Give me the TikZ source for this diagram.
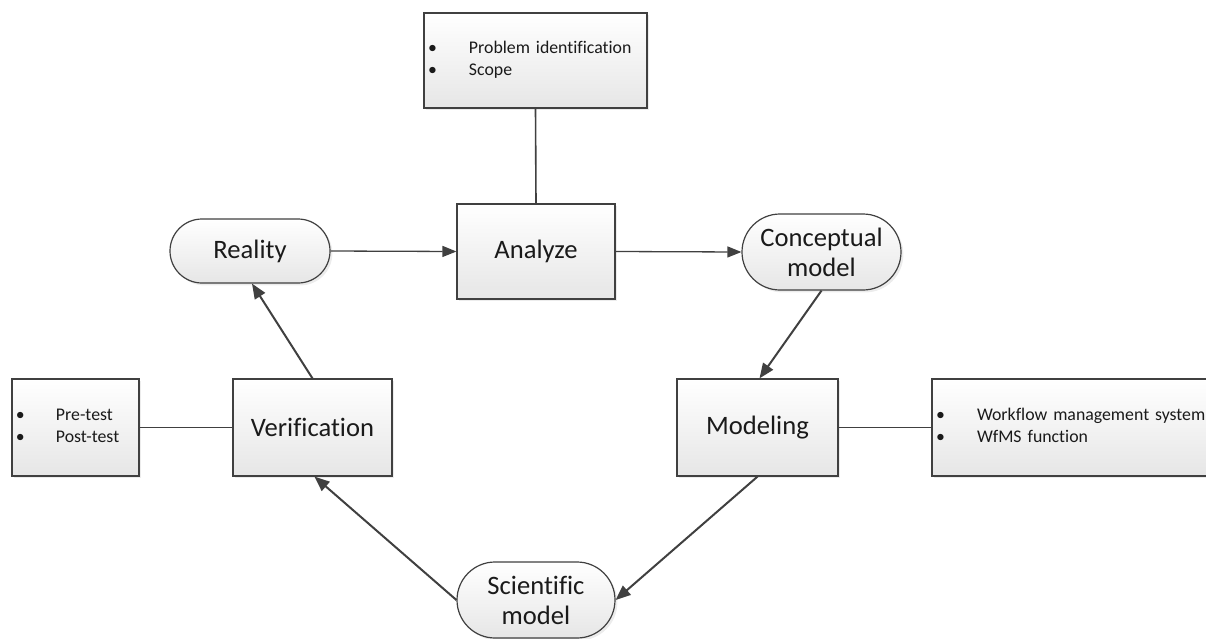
\documentclass[tikz,border=0pt]{standalone}
\usepackage{fontspec}
\setmainfont[Ligatures=NoCommon]{Carlito}
\usetikzlibrary{shadows,arrows.meta}
\definecolor{linegray}{HTML}{404040}
\definecolor{boxbottom}{HTML}{E6E6E6}
\definecolor{txt}{HTML}{1A1A1A}
\begin{document}
\begin{tikzpicture}[x=0.5pt,y=-0.5pt,
  shape base/.style={draw=linegray, line width=0.6pt, top color=white, bottom color=boxbottom,
    drop shadow={shadow xshift=1.2pt,shadow yshift=-1.2pt,opacity=0.15},
    inner sep=0pt, text=txt},
  mainbox/.style={shape base, rectangle, align=center, font=\fontsize{13.3}{15}\selectfont},
  roundbox/.style={shape base, rectangle, align=center, font=\fontsize{13.3}{15}\selectfont},
  listbox/.style={shape base, rectangle, align=left, inner xsep=2pt, font=\fontsize{8.9}{11}\selectfont},
  flow/.style={draw=linegray, line width=0.65pt, -{Triangle[length=7pt,width=5.5pt]}},
  diagflow/.style={draw=linegray, line width=1pt, -{Triangle[length=7.5pt,width=6pt]}},
  link/.style={draw=linegray, line width=0.6pt},
  toplink/.style={draw=linegray, line width=0.8pt}
]
\useasboundingbox (0,0) rectangle (1206,638);
\begin{scope}
\clip (0,0) rectangle (1206,638);
% top list box
\node[listbox, minimum width=111.5pt, minimum height=47.5pt, text width=107.5pt] (prob) at (535.5,60.5)
  {\begin{tabular}{@{}p{20.5pt}@{}l@{}}\textbullet&Problem identification\\ \textbullet&Scope\end{tabular}};
% main nodes
\node[mainbox, minimum width=79pt, minimum height=47.5pt] (ana) at (536,251.5) {Analyze};
\node[roundbox, minimum width=80pt, minimum height=32pt, rounded corners=16pt] (rea) at (250,251) {Reality};
\node[roundbox, minimum width=79.5pt, minimum height=38pt, rounded corners=19pt] (con) at (821.5,252) {Conceptual\\model};
\node[mainbox, minimum width=80.5pt, minimum height=48.5pt] (mod) at (757.5,427.5) {Modeling};
\node[mainbox, minimum width=79.5pt, minimum height=48.5pt] (ver) at (312.5,427.5) {Verification};
\node[roundbox, minimum width=79pt, minimum height=38pt, rounded corners=19pt] (sci) at (536,600) {Scientific\\model};
% side list boxes
\node[listbox, minimum width=63.5pt, minimum height=48.5pt, text width=59.5pt] (test) at (75.5,427.5)
  {\begin{tabular}{@{}p{20pt}@{}l@{}}\textbullet&Pre-test\\ \textbullet&Post-test\end{tabular}};
\node[listbox, minimum width=141.5pt, minimum height=48.5pt, text width=137.5pt] (wf) at (1073.5,427.5)
  {\begin{tabular}{@{}p{20.5pt}@{}l@{}}\textbullet&Workflow management system\\ \textbullet&WfMS function\end{tabular}};
% connectors
\draw[toplink] (prob.south) -- (ana.north);
\draw[flow] (rea.east) -- (ana.west);
\draw[flow] (ana.east) -- (con.west);
\draw[diagflow] (con.south) -- ([xshift=1pt]mod.north);
\draw[diagflow] (mod.south) -- (sci.east);
\draw[diagflow] (sci.west) -- ([xshift=1pt]ver.south);
\draw[diagflow] (ver.north) -- ([xshift=1pt]rea.south);
\draw[link] (test.east) -- (ver.west);
\draw[link] (mod.east) -- (wf.west);
\end{scope}
\end{tikzpicture}
\end{document}
